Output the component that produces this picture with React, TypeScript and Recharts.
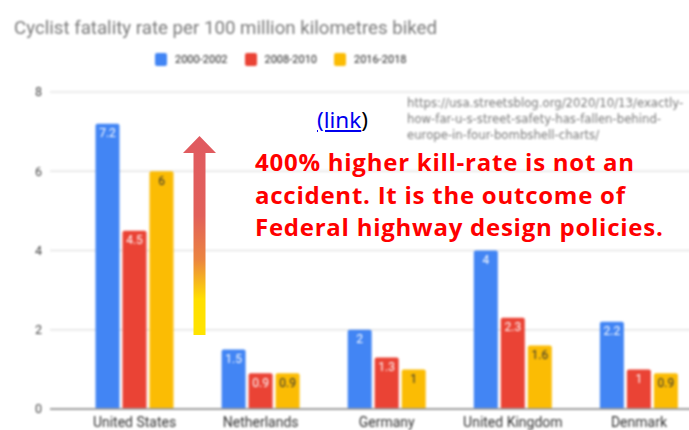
import React from "react";
import { BarChart, Bar, XAxis, YAxis, CartesianGrid, LabelList } from "recharts";

const countries = ["United States", "Netherlands", "Germany", "United Kingdom", "Denmark"];
const p2000 = [7.2, 1.5, 2, 4, 2.2];
const p2008 = [4.5, 0.9, 1.3, 2.3, 1];
const p2016 = [6, 0.9, 1, 1.6, 0.9];
const yTicks = [0, 2, 4, 6, 8];

const series = [
  { key: "p2000", name: "2000-2002", color: "#4285f4", label: "#ffffff" },
  { key: "p2008", name: "2008-2010", color: "#ea4335", label: "#ffffff" },
  { key: "p2016", name: "2016-2018", color: "#fbbc04", label: "#333333" },
];

const data = countries.map((name, i) => ({
  name,
  p2000: p2000[i],
  p2008: p2008[i],
  p2016: p2016[i],
}));

const font = "Roboto, Arial, sans-serif";

export default function App() {
  return (
    <div style={{ position: "absolute", left: 0, top: 0, width: 689, height: 430, overflow: "hidden", background: "#fff" }}>
      <div style={{ position: "absolute", left: 0, top: 0, filter: "blur(0.9px)" }}>
        <div style={{ position: "absolute", left: 14, top: 17, fontFamily: font, fontSize: 18.7, color: "#7a7a7a", whiteSpace: "nowrap" }}>
          Cyclist fatality rate per 100 million kilometres biked
        </div>
        <div style={{ position: "absolute", left: 155, top: 53, display: "flex", fontFamily: font, fontSize: 11, color: "#222", whiteSpace: "nowrap" }}>
          {series.map((s) => (
            <div key={s.key} style={{ display: "flex", alignItems: "center", marginRight: 17 }}>
              <span style={{ width: 12, height: 13, background: s.color, borderRadius: 2, marginRight: 8 }} />
              <span>{s.name}</span>
            </div>
          ))}
        </div>
        <BarChart
          width={723}
          height={430}
          data={data}
          margin={{ top: 92, right: 0, bottom: 0, left: 0 }}
          barGap={3}
          barCategoryGap={24}
        >
          <CartesianGrid vertical={false} stroke="#e4e4e4" strokeWidth={1.5} />
          <XAxis
            dataKey="name"
            height={21}
            padding={{ left: 21.5, right: 21 }}
            tickLine={false}
            axisLine={{ stroke: "#9e9e9e", strokeWidth: 2 }}
            tick={{ fontFamily: font, fontSize: 14, fill: "#333" }}
            interval={0}
          />
          <YAxis
            width={50}
            domain={[0, 8]}
            ticks={yTicks}
            tickLine={false}
            axisLine={false}
            tick={{ fontFamily: font, fontSize: 12.5, fill: "#444" }}
          />
          {series.map((s) => (
            <Bar key={s.key} dataKey={s.key} name={s.name} fill={s.color} radius={[2, 2, 0, 0]} isAnimationActive={false}>
              <LabelList dataKey={s.key} position="insideTop" fill={s.label} fontFamily={font} fontSize={12} />
            </Bar>
          ))}
        </BarChart>
      </div>

      <svg style={{ position: "absolute", left: 0, top: 0 }} width={689} height={430}>
        <defs>
          <linearGradient id="arrowGrad" x1="0" y1="1" x2="0" y2="0">
            <stop offset="0" stopColor="#ffe400" />
            <stop offset="0.18" stopColor="#ffdf00" />
            <stop offset="0.38" stopColor="#eb8440" />
            <stop offset="0.6" stopColor="#e2605a" />
            <stop offset="1" stopColor="#e05a60" />
          </linearGradient>
        </defs>
        <path d="M193.5 335 L193.5 153 L183 153 L199.5 136 L216 153 L205.5 153 L205.5 335 Z" fill="url(#arrowGrad)" />
      </svg>

      <div style={{ position: "absolute", left: 317, top: 106, fontFamily: "'Noto Sans', sans-serif", fontSize: 22.5, lineHeight: "28px", whiteSpace: "nowrap" }}>
        <span style={{ color: "#0000ee", textDecoration: "underline" }}>(link</span>
        <span style={{ color: "#000" }}>)</span>
      </div>
      <div style={{ position: "absolute", left: 407, top: 95, fontFamily: "'DejaVu Sans', sans-serif", fontSize: 11.7, lineHeight: "16px", color: "#7a7a7a", whiteSpace: "nowrap", filter: "blur(0.9px)" }}>
        <div>https://usa.streetsblog.org/2020/10/13/exactly-</div>
        <div>how-far-u-s-street-safety-has-fallen-behind-</div>
        <div>europe-in-four-bombshell-charts/</div>
      </div>
      <div style={{ position: "absolute", left: 255, top: 146, fontFamily: "'Open Sans', sans-serif", fontWeight: 700, fontSize: 24, letterSpacing: 0.75, lineHeight: "32.5px", color: "#ff0000", whiteSpace: "nowrap" }}>
        <div>400% higher kill-rate is not an</div>
        <div>accident. It is the outcome of</div>
        <div>Federal highway design policies.</div>
      </div>
    </div>
  );
}
